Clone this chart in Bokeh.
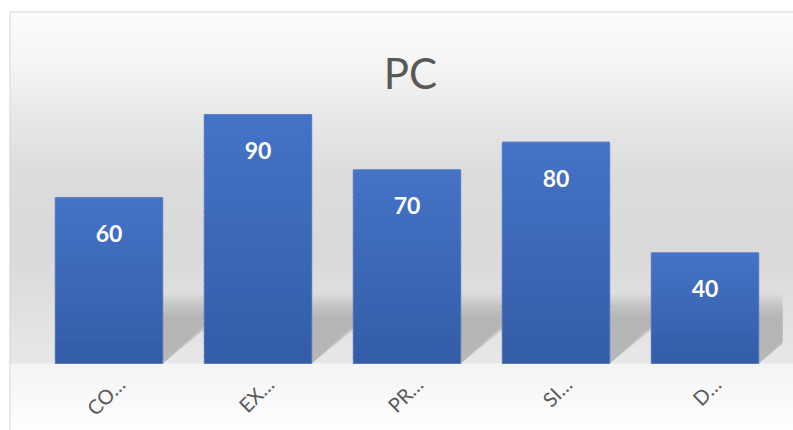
import numpy as np
from bokeh.plotting import figure
from bokeh.models import Range1d, Span, Label
from bokeh.core.properties import value
from bokeh.embed import file_html
from bokeh.resources import INLINE

# ---- data ----
categories = ["CO…", "EX…", "PR…", "SI…", "D…"]
values = [60, 90, 70, 80, 40]
value_labels = [str(v) for v in values]
title_text = "PC"

# ---- layout (pixels) ----
W, H = 793, 430
FL, FT = 9, 11          # frame left / top
BASE = 363              # pixel row of value 0
UX = 149.0              # px per category
UY = 2.767              # px per value unit
C0 = 108.5              # px of first category centre
BW = 0.72               # bar width (category units)

x0 = -(C0 - FL) / UX
x1 = (W - C0) / UX
y1 = (BASE - FT) / UY
y0 = -(H - BASE) / UY
plot_right = len(categories) - 0.5 + 3 / UX

idx = list(range(len(categories)))

p = figure(width=W, height=H, x_range=Range1d(x0, x1), y_range=Range1d(y0, y1),
           output_backend="svg", toolbar_location=None, tools="",
           x_axis_location=None, y_axis_location=None,
           min_border_left=FL, min_border_top=FT, min_border_right=0, min_border_bottom=0,
           background_fill_color="white", border_fill_color="white",
           outline_line_color=None)
p.grid.grid_line_color = None

# ---- background gradient ----
rows = np.arange(FT, H) + 0.5
stops_px = [FT, 60, 110, 170, 250, 300, 362.5, 363.5, 400, H]
stops_g = [252, 246, 234, 221, 217, 224, 232, 245, 250, 254]
g = np.interp(rows, stops_px, stops_g).astype(np.uint8)[::-1]
n = len(g)
img = np.empty((n, 1), dtype=np.uint32)
view = img.view(dtype=np.uint8).reshape((n, 1, 4))
view[:, 0, 0] = g
view[:, 0, 1] = g
view[:, 0, 2] = g
view[:, 0, 3] = 255
p.image_rgba(image=[img], x=x0, y=y0, dw=x1 - x0, dh=y1 - y0)


def clip_right(poly, X):
    out = []
    m = len(poly)
    for k in range(m):
        a = poly[k]
        b = poly[(k + 1) % m]
        ain = a[0] <= X
        bin_ = b[0] <= X
        if ain:
            out.append(a)
        if ain != bin_:
            t = (X - a[0]) / (b[0] - a[0])
            out.append((X, a[1] + t * (b[1] - a[1])))
    return out


# ---- bar shadows (perspective, up-right), soft via stacked layers ----
layers = 18
for k in range(layers):
    f = k / (layers - 1)
    hs = (46 + 24 * f) / UY
    dx = (48 + 40 * f) / UX
    xs, ys = [], []
    for i in idx:
        xl, xr = i - BW / 2, i + BW / 2
        poly = [(xl, 0), (xr, 0), (xr + dx, hs), (xl + dx, hs)]
        poly = clip_right(poly, plot_right)
        xs.append([q[0] for q in poly])
        ys.append([q[1] for q in poly])
    p.patches(xs=xs, ys=ys, fill_color="#808080", fill_alpha=0.035, line_color=None)

# ---- bars with vertical gradient ----
top_c = np.array([69, 115, 198])
bot_c = np.array([51, 93, 167])
N = 40
for j in range(N):
    t = (j + 0.5) / N
    c = bot_c + (top_c - bot_c) * t
    col = "#%02x%02x%02x" % tuple(int(round(v)) for v in c)
    lefts = [i - BW / 2 for i in idx]
    rights = [i + BW / 2 for i in idx]
    bottoms = [v * j / N for v in values]
    tops = [min(v, v * (j + 1.6) / N) for v in values]
    p.quad(left=lefts, right=rights, bottom=bottoms, top=tops,
           fill_color=col, line_color=col, line_width=0.6)
p.quad(left=[i - BW / 2 for i in idx], right=[i + BW / 2 for i in idx],
       bottom=[0] * len(values), top=values,
       fill_color=None, line_color="#5b80c9", line_alpha=0.6, line_width=1)

# ---- value labels ----
p.text(x=idx, y=values, text=value_labels, y_offset=36,
       text_align="center", text_baseline="middle",
       text_color="white", text_font=value("Lato"), text_font_style="bold",
       text_font_size="23px")

# ---- category labels ----
p.text(x=idx, y=[0] * len(idx), text=categories, angle=np.pi / 4,
       x_offset=12, y_offset=17, text_align="right", text_baseline="middle",
       text_color="#595959", text_font=value("Lato"), text_font_size="20px")

# ---- title ----
p.add_layout(Label(x=(410 - C0) / UX, y=(BASE - 72) / UY, text=title_text,
                   text_align="center", text_baseline="middle",
                   text_font="Lato", text_font_size="42px",
                   text_color="#595959"))

# ---- chart border (left / top) ----
p.add_layout(Span(location=x0, dimension="height", line_color="#d6d6d6", line_width=2))
p.add_layout(Span(location=y1, dimension="width", line_color="#d6d6d6", line_width=2))

open("out.html", "w").write(file_html(p, INLINE))
